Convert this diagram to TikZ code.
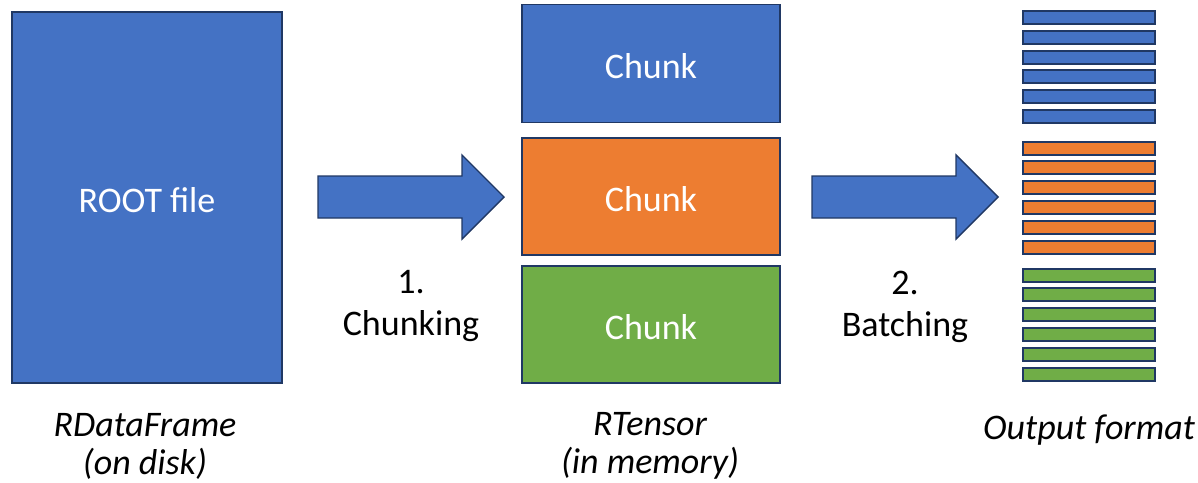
\documentclass[tikz,border=0pt]{standalone}
\usepackage{fontspec}
\setmainfont{Carlito}
\definecolor{accblue}{HTML}{4472C4}
\definecolor{accorange}{HTML}{ED7D31}
\definecolor{accgreen}{HTML}{70AD47}
\definecolor{navy}{HTML}{203864}
\begin{document}
\begin{tikzpicture}[x=1pt,y=-1pt, every node/.style={font=\fontsize{36}{38}\selectfont},
  box/.style={draw=navy,line width=1.6pt,inner sep=0pt,text=white,text height=29pt,text depth=0pt},
  bar/.style={draw=navy,line width=2pt,minimum width=132pt,minimum height=13pt,inner sep=0pt},
  bigarrow/.style={draw=navy,line width=1.4pt,fill=accblue,line join=miter},
  lbl/.style={align=center,font=\fontsize{36}{42}\selectfont},
  captxt/.style={align=center,font=\fontsize{36}{38}\selectfont\itshape}]
\useasboundingbox (0,0) rectangle (1198,482);
\node[box,fill=accblue,minimum width=270pt,minimum height=371pt] (root) at (147,197.5) {ROOT file};
% chunks
\node[box,fill=accblue,minimum width=258pt,minimum height=118pt] (ck1) at (651,63.5) {Chunk};
\node[box,fill=accorange,minimum width=258pt,minimum height=117pt] (ck2) at (651,196.5) {Chunk};
\node[box,fill=accgreen,minimum width=258pt,minimum height=117pt] (ck3) at (651,324.5) {Chunk};
% block arrows
\coordinate (a1) at (318,197);
\coordinate (a2) at (812,197);
\foreach \a in {a1,a2}
  \draw[bigarrow] (\a) ++(0,-21) -- ++(144,0) -- ++(0,-21) -- ++(42,42) -- ++(-42,42) -- ++(0,-21) -- ++(-144,0) -- cycle;
\node[lbl] (chunking) at (411,306) {1.\\Chunking};
\node[lbl] (batching) at (905,307) {2.\\Batching};
% batches
\foreach \col/\y [count=\g] in {accblue/17.5,accorange/148,accgreen/275}
  \foreach \i in {0,...,5}
    \node[bar,fill=\col] (b\g\i) at (1089,\y+19.8*\i) {};
% captions
\node[captxt] (rdf) at (145,446) {RDataFrame\\(on disk)};
\node[captxt] (rten) at (650,446) {RTensor\\(in memory)};
\node[captxt,anchor=base] (out) at (1089,439) {Output format};
\end{tikzpicture}
\end{document}
